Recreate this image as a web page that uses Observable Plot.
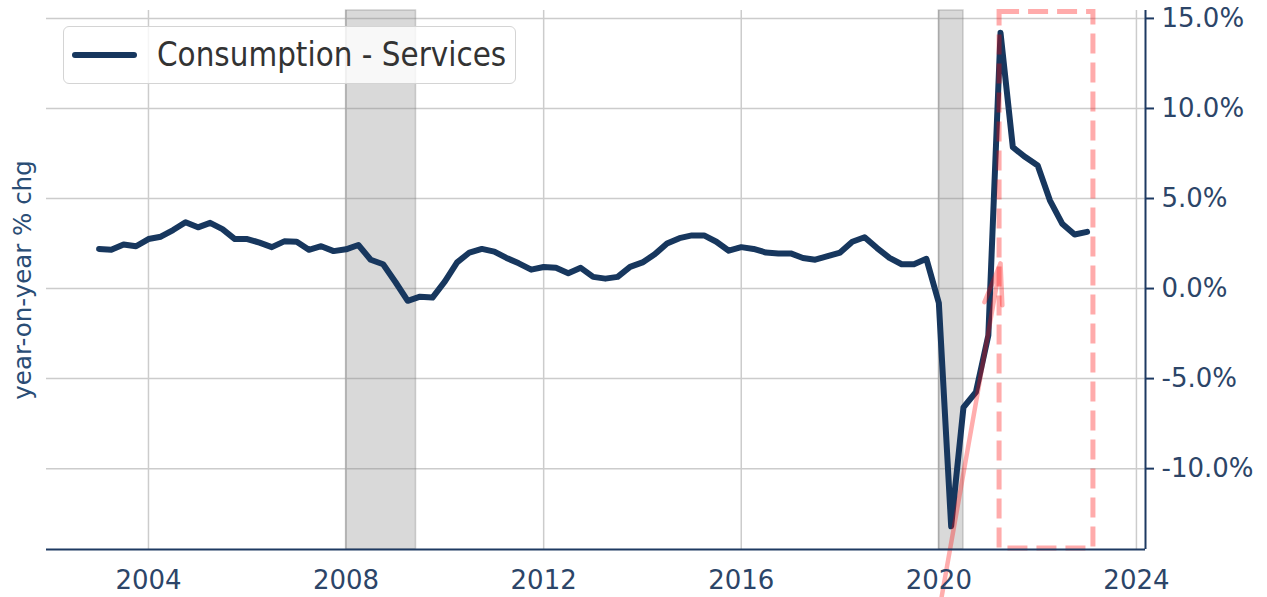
<!DOCTYPE html>
<html><head><meta charset="utf-8">
<script src="https://cdn.jsdelivr.net/npm/d3@7"></script>
<script src="https://cdn.jsdelivr.net/npm/@observablehq/plot@0.6"></script>
<style>
html,body{margin:0;padding:0;background:#fff;}
#wrap{position:relative;width:1267px;height:597px;overflow:hidden;}
#legend{position:absolute;left:63px;top:26px;width:453px;height:58px;box-sizing:border-box;background:rgba(255,255,255,0.8);border:1.5px solid #d4d4d4;border-radius:6px;display:flex;align-items:center;font-family:"DejaVu Sans";font-size:29.5px;color:#333;white-space:nowrap;}
#legend .sw{width:65px;height:6px;background:#17375e;border-radius:3px;margin-left:8px;margin-right:20px;flex:none;}
#legtxt{display:inline-block;transform:scaleY(1.12);}
</style></head><body>
<div id="wrap"><div id="legend"><span class="sw"></span><span id="legtxt"></span></div></div>
<script>
const seriesName = "Consumption - Services";
const yLabel = "year-on-year % chg";
const quarterDates = [
 "2003-01-01","2003-04-01","2003-07-01","2003-10-01",
 "2004-01-01","2004-04-01","2004-07-01","2004-10-01",
 "2005-01-01","2005-04-01","2005-07-01","2005-10-01",
 "2006-01-01","2006-04-01","2006-07-01","2006-10-01",
 "2007-01-01","2007-04-01","2007-07-01","2007-10-01",
 "2008-01-01","2008-04-01","2008-07-01","2008-10-01",
 "2009-01-01","2009-04-01","2009-07-01","2009-10-01",
 "2010-01-01","2010-04-01","2010-07-01","2010-10-01",
 "2011-01-01","2011-04-01","2011-07-01","2011-10-01",
 "2012-01-01","2012-04-01","2012-07-01","2012-10-01",
 "2013-01-01","2013-04-01","2013-07-01","2013-10-01",
 "2014-01-01","2014-04-01","2014-07-01","2014-10-01",
 "2015-01-01","2015-04-01","2015-07-01","2015-10-01",
 "2016-01-01","2016-04-01","2016-07-01","2016-10-01",
 "2017-01-01","2017-04-01","2017-07-01","2017-10-01",
 "2018-01-01","2018-04-01","2018-07-01","2018-10-01",
 "2019-01-01","2019-04-01","2019-07-01","2019-10-01",
 "2020-01-01","2020-04-01","2020-07-01","2020-10-01",
 "2021-01-01","2021-04-01","2021-07-01","2021-10-01",
 "2022-01-01","2022-04-01","2022-07-01","2022-10-01",
 "2023-01-01"
];
const servicesYoY = [
 2.2, 2.15, 2.45, 2.35,
 2.75, 2.88, 3.25, 3.68,
 3.4, 3.65, 3.3, 2.75,
 2.75, 2.55, 2.3, 2.62,
 2.6, 2.15, 2.35, 2.08,
 2.18, 2.42, 1.6, 1.35,
 0.35, -0.68, -0.45, -0.5,
 0.4, 1.45, 2.0, 2.2,
 2.05, 1.7, 1.4, 1.05,
 1.2, 1.15, 0.85, 1.15,
 0.65, 0.55, 0.65, 1.2,
 1.45, 1.9, 2.5, 2.8,
 2.95, 2.95, 2.6, 2.1,
 2.3, 2.2, 2.0, 1.95,
 1.95, 1.7, 1.6, 1.8,
 2.0, 2.6, 2.85, 2.25,
 1.7, 1.35, 1.35, 1.65,
 -0.8, -13.2, -6.6, -5.75,
 -2.6, 14.2, 7.85, 7.3,
 6.83, 4.9, 3.6, 3.0,
 3.15
];
const recessionStart = ["2008-01-01", "2020-01-01"];
const recessionEnd = ["2009-06-01", "2020-07-01"];
const xTickYears = ["2004", "2008", "2012", "2016", "2020", "2024"];
const yTicks = [-10, -5, 0, 5, 10, 15];
const xDomainDates = ["2001-12-08", "2024-03-08"];
const yDomain = [-14.49, 15.44];
const boxX = ["2021-03-25", "2023-02-17"];
const boxY = [-14.44, 15.36];
const arrowFrom = {date: "2020-01-01", value: -18};
const arrowTo = {date: "2021-04-01", value: 1.4};

const navy = "#17375e";
const axisNavy = "#1e3a62";
const textNavy = "#2c4568";

const data = quarterDates.map((d, i) => ({date: new Date(d), value: servicesYoY[i]}));
const recessions = recessionStart.map((s, i) => ({start: new Date(s), end: new Date(recessionEnd[i])}));
const xTicks = xTickYears.map(y => new Date(y + "-01-01"));
const xDomain = xDomainDates.map(d => new Date(d));
const box = {x1: new Date(boxX[0]), x2: new Date(boxX[1]), y1: boxY[0], y2: boxY[1]};
const arrow = {x1: new Date(arrowFrom.date), y1: arrowFrom.value, x2: new Date(arrowTo.date), y2: arrowTo.value};

document.getElementById("legtxt").textContent = seriesName;

const chart = Plot.plot({
  width: 1267, height: 597,
  marginTop: 10, marginBottom: 48, marginLeft: 46, marginRight: 122,
  x: {type: "utc", domain: xDomain},
  y: {domain: yDomain},
  style: {fontFamily: "DejaVu Sans", background: "white", color: textNavy, overflow: "visible"},
  marks: [
    Plot.gridX(xTicks, {stroke: "#cccccc", strokeOpacity: 1, strokeWidth: 1.5}),
    Plot.gridY(yTicks, {stroke: "#cccccc", strokeOpacity: 1, strokeWidth: 1.5}),
    Plot.rect(recessions, {x1: "start", x2: "end", fill: "#808080", fillOpacity: 0.3, stroke: "#808080", strokeOpacity: 0.35, strokeWidth: 1.5}),
    Plot.line(data, {x: "date", y: "value", stroke: navy, strokeWidth: 6, strokeLinejoin: "round", strokeLinecap: "round"}),
    Plot.rect([box], {x1: "x1", x2: "x2", y1: "y1", y2: "y2", fill: "none", stroke: "#ff0000", strokeOpacity: 0.33, strokeWidth: 5, strokeDasharray: "20,9"}),
    Plot.arrow([arrow], {x1: "x1", y1: "y1", x2: "x2", y2: "y2", stroke: "#ff0000", strokeOpacity: 0.32, strokeWidth: 4.5, headLength: 14, headAngle: 25}),
    Plot.ruleY([yDomain[0]], {stroke: axisNavy, strokeWidth: 2}),
    Plot.ruleX([xDomain[1]], {stroke: axisNavy, strokeWidth: 2}),
    Plot.axisX({ticks: xTicks, tickFormat: d => String(d.getUTCFullYear()), tickSize: 0, tickPadding: 21, fontSize: 26, label: null, fill: textNavy}),
    Plot.axisY({anchor: "right", ticks: yTicks, tickFormat: d => d.toFixed(1) + "%", tickSize: 8, tickPadding: 8, fontSize: 26, label: null, stroke: axisNavy, strokeWidth: 2, fill: textNavy}),
    Plot.text([yLabel], {text: d => d, frameAnchor: "left", textAnchor: "middle", rotate: -90, dx: -23, fontSize: 24.5, fill: "#2a4d75"})
  ]
});
document.getElementById("wrap").insertBefore(chart, document.getElementById("legend"));
</script>
</body></html>
